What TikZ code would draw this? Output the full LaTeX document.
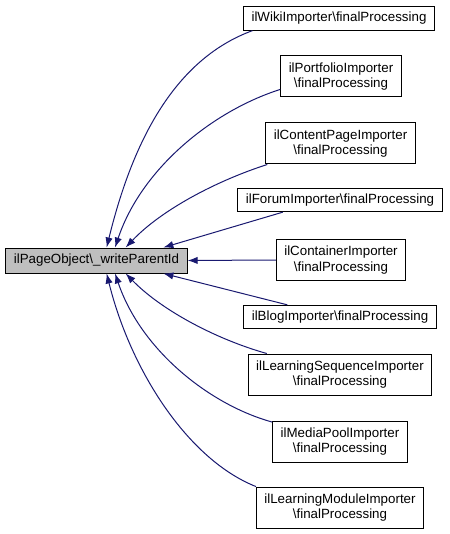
\documentclass[tikz,border=0pt]{standalone}
\usepackage{fontspec}
\setmainfont{Liberation Sans}
\usepackage{xcolor}
\usetikzlibrary{arrows.meta}
\definecolor{dxblue}{HTML}{191970}
\definecolor{cur}{HTML}{BFBFBF}

\begin{document}
\begin{tikzpicture}[x=0.75pt,y=-0.75pt,font=\fontsize{10}{11.5}\selectfont,>={Latex[length=7.5pt,width=5.5pt]}]
\tikzstyle{fn}=[draw,line width=0.75pt,fill=white,align=center,inner xsep=6pt,inner ysep=2pt]
\tikzstyle{one}=[fn,minimum height=17.5pt]
\tikzstyle{two}=[fn,minimum height=30.75pt]
\tikzstyle{call}=[<-,color=dxblue,line width=0.75pt]
\useasboundingbox (0,0) rectangle (449,534);
% the function itself
\node[fn,fill=cur,minimum height=18.75pt] (main) at (96.5,260.5) {ilPageObject\textbackslash\_writeParentId};
% callers
\node[one] (wiki) at (339,18.5) {ilWikiImporter\textbackslash finalProcessing};
\node[two] (portfolio) at (341,76.5) {ilPortfolioImporter\\\textbackslash finalProcessing};
\node[two] (content) at (340.5,143.5) {ilContentPageImporter\\\textbackslash finalProcessing};
\node[one] (forum) at (340,200) {ilForumImporter\textbackslash finalProcessing};
\node[two] (container) at (341,260) {ilContainerImporter\\\textbackslash finalProcessing};
\node[one] (blog) at (340,317) {ilBlogImporter\textbackslash finalProcessing};
\node[two] (lseq) at (340,374.5) {ilLearningSequenceImporter\\\textbackslash finalProcessing};
\node[two] (mpool) at (340,441.5) {ilMediaPoolImporter\\\textbackslash finalProcessing};
\node[two] (lmod) at (340,507.5) {ilLearningModuleImporter\\\textbackslash finalProcessing};
% calls
\draw[call] (main.52.8) .. controls +(24,-98) and +(-82,30) .. (wiki.188.5);
\draw[call] (main.35.5) .. controls +(26,-78) and +(-69,22) .. (portfolio.192.5);
\draw[call] (main.24.4) .. controls +(36,-38) and +(-50,16) .. (content.196);
\draw[call] (main.11.5) -- (forum.192.3);
\draw[call] (main.east) -- (container.west);
\draw[call] (main.-11.5) -- (blog.167);
\draw[call] (main.-24.4) .. controls +(36,37) and +(-50,-14) .. (lseq.164);
\draw[call] (main.-35.5) .. controls +(26,77) and +(-62,-17) .. (mpool.164);
\draw[call] (main.-52.8) .. controls +(24,97) and +(-68,-27) .. (lmod.166);
\end{tikzpicture}
\end{document}
